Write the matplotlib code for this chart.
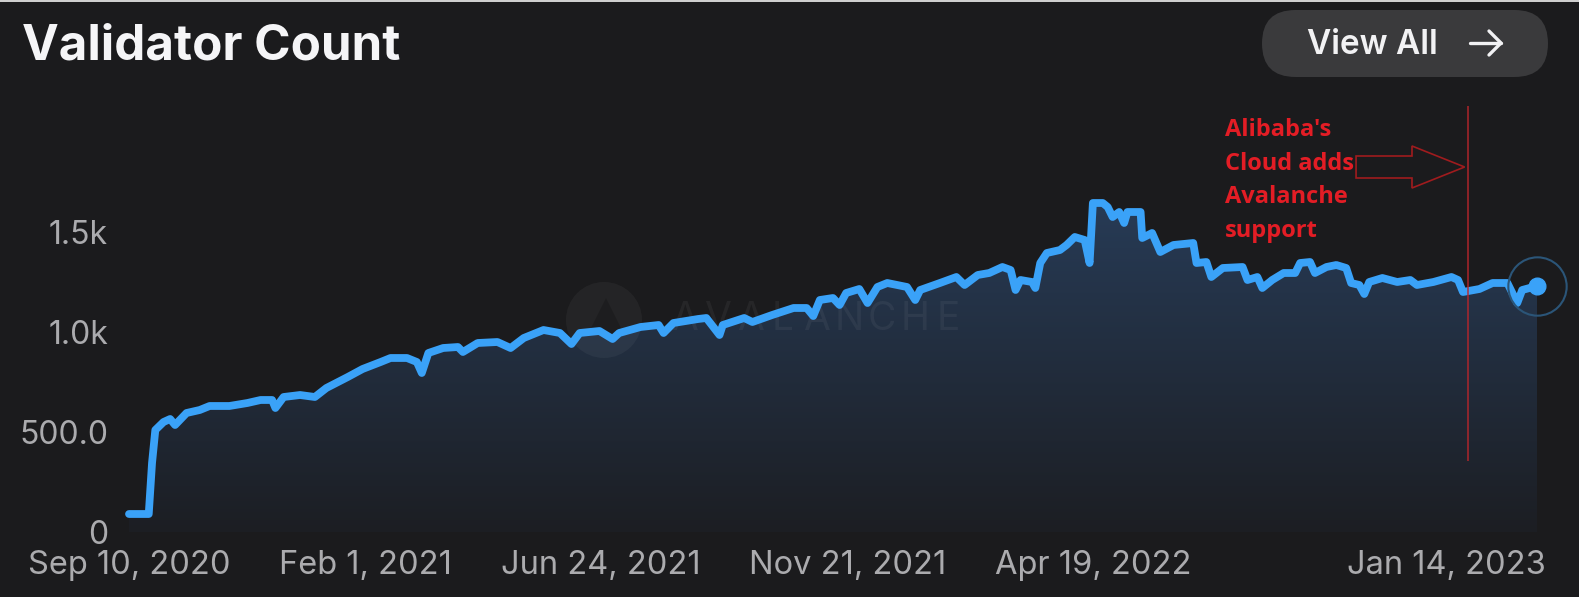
import numpy as np
import matplotlib
matplotlib.use('Agg')
import matplotlib.pyplot as plt
import matplotlib.dates as mdates
from matplotlib.colors import LinearSegmentedColormap
from matplotlib.patches import FancyBboxPatch, Circle, FancyArrow, Rectangle, Polygon
from matplotlib.transforms import IdentityTransform, ScaledTranslation
from matplotlib.lines import Line2D

# validator count
dates = ['2020-09-10', '2020-09-22', '2020-09-24', '2020-09-26', '2020-10-01', '2020-10-05',
         '2020-10-08', '2020-10-15', '2020-10-23', '2020-10-29', '2020-11-10', '2020-11-21',
         '2020-11-29', '2020-12-06', '2020-12-08', '2020-12-13', '2020-12-23', '2021-01-01',
         '2021-01-08', '2021-01-21', '2021-01-30', '2021-02-10', '2021-02-16', '2021-02-26',
         '2021-03-04', '2021-03-07', '2021-03-11', '2021-03-20', '2021-03-29', '2021-04-01',
         '2021-04-10', '2021-04-22', '2021-04-30', '2021-05-08', '2021-05-20', '2021-05-30',
         '2021-06-06', '2021-06-11', '2021-06-23', '2021-07-01', '2021-07-05', '2021-07-18',
         '2021-07-29', '2021-08-01', '2021-08-07', '2021-08-22', '2021-08-27', '2021-09-04',
         '2021-09-06', '2021-09-19', '2021-09-24', '2021-10-06', '2021-10-19', '2021-10-27',
         '2021-10-31', '2021-11-04', '2021-11-12', '2021-11-16', '2021-11-20', '2021-11-28',
         '2021-12-03', '2021-12-09', '2021-12-15', '2021-12-27', '2022-01-01', '2022-01-04',
         '2022-01-16', '2022-01-26', '2022-01-31', '2022-02-08', '2022-02-15', '2022-02-23',
         '2022-02-28', '2022-03-03', '2022-03-06', '2022-03-13', '2022-03-15', '2022-03-18',
         '2022-03-22', '2022-03-30', '2022-04-03', '2022-04-08', '2022-04-14', '2022-04-17',
         '2022-04-19', '2022-04-25', '2022-04-28', '2022-05-01', '2022-05-05', '2022-05-08',
         '2022-05-10', '2022-05-18', '2022-05-19', '2022-05-25', '2022-05-30', '2022-06-07',
         '2022-06-19', '2022-06-21', '2022-06-27', '2022-06-30', '2022-07-07', '2022-07-19',
         '2022-07-22', '2022-07-28', '2022-07-31', '2022-08-06', '2022-08-13', '2022-08-20',
         '2022-08-23', '2022-08-29', '2022-09-01', '2022-09-08', '2022-09-14', '2022-09-20',
         '2022-09-23', '2022-09-28', '2022-10-01', '2022-10-04', '2022-10-12', '2022-10-21',
         '2022-10-29', '2022-11-02', '2022-11-12', '2022-11-23', '2022-11-27', '2022-11-30',
         '2022-12-10', '2022-12-18', '2022-12-27', '2023-01-02', '2023-01-05', '2023-01-14']
counts = [90, 90, 345, 510, 550, 565,
          535, 595, 610, 630, 630, 645,
          660, 660, 620, 675, 685, 675,
          720, 775, 815, 850, 870, 870,
          850, 795, 895, 920, 925, 900,
          945, 950, 920, 970, 1010, 995,
          940, 995, 1005, 965, 995, 1025,
          1035, 995, 1045, 1065, 1070, 985,
          1035, 1070, 1050, 1085, 1120, 1120,
          1080, 1160, 1170, 1135, 1195, 1215,
          1145, 1225, 1245, 1225, 1160, 1210,
          1245, 1275, 1235, 1285, 1295, 1325,
          1310, 1210, 1260, 1250, 1220, 1345,
          1395, 1410, 1435, 1475, 1460, 1345,
          1645, 1645, 1625, 1575, 1600, 1545,
          1600, 1600, 1470, 1495, 1400, 1435,
          1445, 1345, 1350, 1275, 1320, 1325,
          1260, 1275, 1220, 1260, 1295, 1295,
          1345, 1350, 1295, 1325, 1335, 1320,
          1245, 1235, 1190, 1250, 1270, 1250,
          1260, 1235, 1250, 1275, 1260, 1200,
          1215, 1245, 1245, 1145, 1210, 1230]

tick_dates = ['2020-09-10', '2021-02-01', '2021-06-24', '2021-11-21', '2022-04-19', '2023-01-14']
tick_labels = ['Sep 10, 2020', 'Feb 1, 2021', 'Jun 24, 2021', 'Nov 21, 2021', 'Apr 19, 2022', 'Jan 14, 2023']
ytick_vals = [0, 500, 1000, 1500]
ytick_labels = ['0', '500.0', '1.0k', '1.5k']

event_date = '2022-12-03'
arrow_from = '2022-09-26'
arrow_to = '2022-12-01'
event_lines = ["Alibaba's", 'Cloud adds', 'Avalanche', 'support']

bg = '#1b1b1d'
W, H = 1579, 597
fig = plt.figure(figsize=(W / 100, H / 100), dpi=100, facecolor=bg)
ax = fig.add_axes([129 / W, 65 / H, (1537 - 129) / W, 432 / H])
ax.set_facecolor('none')

x = mdates.date2num(np.array(dates, dtype='datetime64[D]'))
y = np.array(counts)
x0 = mdates.date2num(np.datetime64(dates[0]))
x1 = mdates.date2num(np.datetime64(dates[-1]))

# gradient fill under the line
poly = ax.fill_between(x, y, 0, color='none', lw=0)
cmap = LinearSegmentedColormap.from_list('g', ['#1c1e23', '#273b56'])
grad = np.linspace(0, 1, 256).reshape(-1, 1)
im = ax.imshow(grad, extent=[x0, x1, 0, 1650], aspect='auto', cmap=cmap,
               origin='lower', zorder=1, interpolation='bicubic')
im.set_clip_path(poly.get_paths()[0], transform=ax.transData)

# watermark
ax.add_patch(Circle((604, H - 320), 38, transform=IdentityTransform(), fc='white',
                    alpha=0.045, lw=0, zorder=1.5))
ax.add_patch(Polygon([(588, H - 334), (606, H - 298), (624, H - 334)], closed=True,
                     transform=IdentityTransform(), fc='black', alpha=0.18, lw=0, zorder=1.6))
for i, ch in enumerate('AVALANCHE'):
    ax.text(684 + i * 33, H - 320, ch, transform=IdentityTransform(), ha='center', va='center',
            fontsize=28, family='Inter', color='white', alpha=0.05, zorder=1.5)

ax.plot(x, y, color='#3aa2f8', lw=5.6, solid_joinstyle='round', solid_capstyle='round',
        zorder=3, clip_on=False)
ax.plot(x[-1], y[-1], 'o', ms=12, color='#3aa2f8', zorder=4, clip_on=False)
ax.plot(x[-1], y[-1], 'o', ms=42, mfc='none', mec='#2b5578', mew=1.5, zorder=4, clip_on=False)

# annotation
ev = mdates.date2num(np.datetime64(event_date))
ax.vlines(ev, 355, 2130, color='#b8262c', lw=1.2, alpha=0.85, zorder=5)
a0 = mdates.date2num(np.datetime64(arrow_from))
a1 = mdates.date2num(np.datetime64(arrow_to))
ax.add_patch(FancyArrow(a0, 1825, a1 - a0, 0, width=110, head_width=210, head_length=32,
                        length_includes_head=True, fc='none', ec='#a01b1e', lw=1.2, zorder=5))
for i, line in enumerate(event_lines):
    fig.text(1225 / W, 1 - (136 + i * 33.7) / H, line, va='baseline', ha='left', fontsize=17,
             fontweight='bold', family='Open Sans', color='#e31d25')

ax.set_xlim(x0, x1)
ax.set_ylim(0, 2160)
ax.set_xticks(mdates.date2num(np.array(tick_dates, dtype='datetime64[D]')))
ax.set_xticklabels(tick_labels)
ax.set_yticks(ytick_vals)
ax.set_yticklabels(ytick_labels)
ax.tick_params(length=0, colors='#ababae', labelsize=23)
ax.tick_params(axis='x', pad=13, labelsize=23.5)
ax.tick_params(axis='y', pad=15)
for lab in ax.get_xticklabels() + ax.get_yticklabels():
    lab.set_family('Inter')
last = ax.get_xticklabels()[-1]
last.set_horizontalalignment('right')
last.set_transform(last.get_transform() + ScaledTranslation(0.09, 0, fig.dpi_scale_trans))
for s in ax.spines.values():
    s.set_visible(False)

# title and button
fig.text(22 / W, 1 - 60 / H, 'Validator Count', va='baseline', ha='left', fontsize=35.5,
         fontweight='bold', family='Inter', color='#f5f5f7')
fig.add_artist(FancyBboxPatch((1262, H - 77), 286, 67, boxstyle='round,pad=0,rounding_size=33.5',
                              transform=IdentityTransform(), fc='#3a3a3c', ec='none'))
fig.text(1307 / W, 1 - 54 / H, 'View All', va='baseline', ha='left', fontsize=24,
         fontweight='semibold', family='Inter', color='#f2f2f4')
for xs, ys in [([1470, 1501], [H - 43, H - 43]), ([1489, 1501, 1489], [H - 31, H - 43, H - 55])]:
    fig.add_artist(Line2D(xs, ys, transform=IdentityTransform(), color='#f2f2f4', lw=2.4,
                          solid_capstyle='round', solid_joinstyle='round'))
fig.add_artist(Rectangle((0, H - 1.5), W, 1.5, transform=IdentityTransform(), fc='#cfcfcf', lw=0))

fig.savefig('out.png', dpi=100, facecolor=bg)
